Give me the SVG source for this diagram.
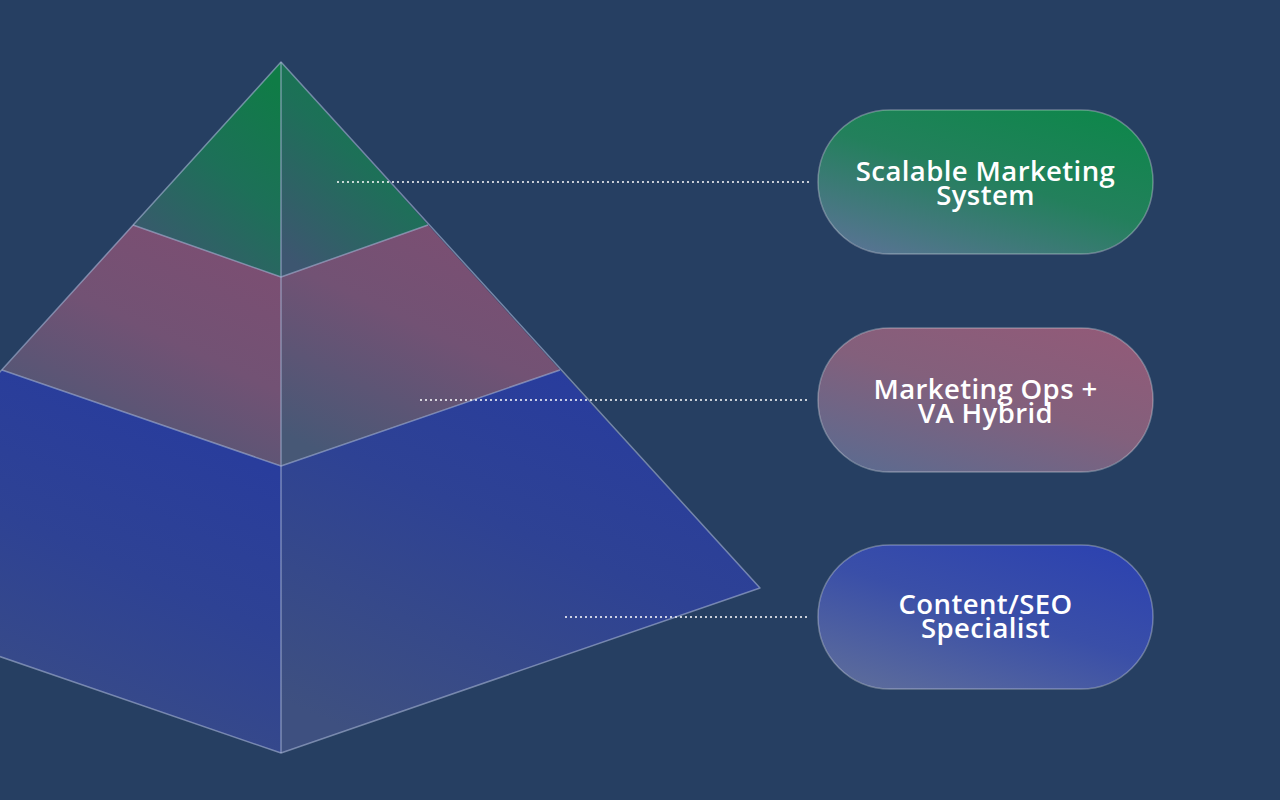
<svg xmlns="http://www.w3.org/2000/svg" width="1280" height="800" viewBox="0 0 1280 800">
<style>
.edge{fill:none;stroke:#a9b6d6;stroke-opacity:0.6;stroke-width:1.5;stroke-linejoin:round}
.pill{stroke:#ffffff;stroke-opacity:0.3;stroke-width:1.5}
.lbl{font-family:"Open Sans","Noto Sans","Liberation Sans",sans-serif;font-weight:600;font-size:27.5px;letter-spacing:0.4px;fill:#ffffff;text-anchor:middle}
.dot{stroke:#ffffff;stroke-width:1.6;stroke-dasharray:2 3;fill:none}
</style>
<defs>
<linearGradient id="gG" x1="0.8" y1="0" x2="0.2" y2="1"><stop offset="0" stop-color="#0f7c46"/><stop offset="0.45" stop-color="#1d7058"/><stop offset="1" stop-color="#3d5670"/></linearGradient>
<linearGradient id="gP" x1="0.8" y1="0" x2="0.25" y2="1"><stop offset="0" stop-color="#7d4e72"/><stop offset="0.45" stop-color="#725274"/><stop offset="1" stop-color="#475876"/></linearGradient>
<linearGradient id="gB" x1="0.8" y1="0" x2="0.25" y2="1"><stop offset="0" stop-color="#273b9f"/><stop offset="0.45" stop-color="#2e4294"/><stop offset="1" stop-color="#3e5080"/></linearGradient>
<linearGradient id="pG" x1="0.9" y1="0" x2="0.2" y2="1"><stop offset="0" stop-color="#0d874a"/><stop offset="0.5" stop-color="#23805c"/><stop offset="1" stop-color="#557490"/></linearGradient>
<linearGradient id="pP" x1="0.9" y1="0" x2="0.2" y2="1"><stop offset="0" stop-color="#925a78"/><stop offset="0.5" stop-color="#83607c"/><stop offset="1" stop-color="#5f6a8e"/></linearGradient>
<linearGradient id="pB" x1="0.9" y1="0" x2="0.2" y2="1"><stop offset="0" stop-color="#2c42b0"/><stop offset="0.5" stop-color="#3a4fa8"/><stop offset="1" stop-color="#5a6a9c"/></linearGradient>
</defs>
<rect width="1280" height="800" fill="#263f62"/>
<g id="pyramid">
<g id="tier-top">
<polygon points="281,62 133,225 281,277" fill="url(#gG)"/>
<polygon points="281,62 428,225 281,277" fill="url(#gG)"/>
</g>
<g id="tier-middle">
<polygon points="133,225 281,277 281,466 2,370" fill="url(#gP)"/>
<polygon points="428,225 281,277 281,466 560,370" fill="url(#gP)"/>
</g>
<g id="tier-bottom">
<polygon points="2,370 281,466 281,753 -197,589" fill="url(#gB)"/>
<polygon points="560,370 281,466 281,753 760,588" fill="url(#gB)"/>
</g>
<polyline class="edge" points="-197,589 281,62 760,588 281,753 -197,589"/>
<polyline class="edge" points="133,225 281,277 428,225"/>
<polyline class="edge" points="2,370 281,466 560,370"/>
<line class="edge" x1="281" y1="62" x2="281" y2="753" stroke-opacity="0.85"/>
</g>
<g id="connectors">
<line class="dot" x1="337" y1="182" x2="810" y2="182"/>
<line class="dot" x1="420" y1="400" x2="810" y2="400"/>
<line class="dot" x1="565" y1="617" x2="810" y2="617"/>
</g>
<g id="node-system">
<rect class="pill" x="818" y="110" width="335" height="144" rx="72" fill="url(#pG)"/>
<text class="lbl" x="985.5" y="181">Scalable Marketing</text>
<text class="lbl" x="985.5" y="205">System</text>
</g>
<g id="node-ops">
<rect class="pill" x="818" y="328" width="335" height="144" rx="72" fill="url(#pP)"/>
<text class="lbl" x="985.5" y="399">Marketing Ops +</text>
<text class="lbl" x="985.5" y="423">VA Hybrid</text>
</g>
<g id="node-content">
<rect class="pill" x="818" y="545" width="335" height="144" rx="72" fill="url(#pB)"/>
<text class="lbl" x="985.5" y="614">Content/SEO</text>
<text class="lbl" x="985.5" y="638">Specialist</text>
</g>
</svg>
